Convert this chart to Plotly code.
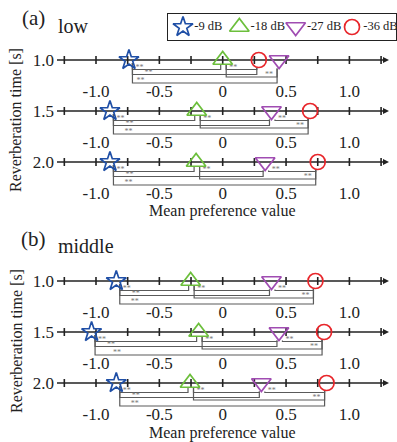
import plotly.graph_objects as go

# ---------------- data ----------------
conditions = ["-9 dB", "-18 dB", "-27 dB", "-36 dB"]
reverb_times = [1.0, 1.5, 2.0]
reverb_labels = ["1.0", "1.5", "2.0"]
axis_tick_values = [-1.0, -0.5, 0.0, 0.5, 1.0]
axis_tick_labels = ["-1.0", "-0.5", "0", "0.5", "1.0"]
axis_minor_ticks = [-1.25, -1.0, -0.75, -0.5, -0.25, 0.0, 0.25, 0.5, 0.75, 1.0, 1.25]

# (a) low : mean preference value per reverberation time (1.0, 1.5, 2.0 s)
low_m9 = [-0.74, -0.89, -0.89]
low_m18 = [0.00, -0.205, -0.21]
low_m27 = [0.445, 0.385, 0.335]
low_m36 = [0.285, 0.69, 0.75]

# (b) middle
middle_m9 = [-0.84, -1.035, -0.84]
middle_m18 = [-0.253, -0.19, -0.258]
middle_m27 = [0.385, 0.444, 0.305]
middle_m36 = [0.732, 0.80, 0.82]

all_pairs = [("-9 dB", "-18 dB"), ("-9 dB", "-27 dB"), ("-9 dB", "-36 dB"),
             ("-18 dB", "-27 dB"), ("-18 dB", "-36 dB"), ("-27 dB", "-36 dB")]
# pairs with p < 0.01 (**) per reverberation time
low_significant = [[p for p in all_pairs if p != ("-27 dB", "-36 dB")], all_pairs, all_pairs]
middle_significant = [all_pairs, all_pairs, all_pairs]

# ---------------- styling / layout constants ----------------
W, H = 397, 442
ZERO_PX = 222.7          # pixel of value 0
PX_PER_UNIT = 126.7      # pixels per preference unit
PX_PER_SEC = 102.0       # pixels per second of reverberation time
FONT = "Liberation Serif, Times New Roman, serif"

symbols = {"-9 dB": "star-open", "-18 dB": "triangle-up-open",
           "-27 dB": "triangle-down-open", "-36 dB": "circle-open"}
sizes = {"-9 dB": 15, "-18 dB": 17, "-27 dB": 17, "-36 dB": 15}
colors = {"-9 dB": "#1f4fa6", "-18 dB": "#6cbf3c", "-27 dB": "#a04cb2", "-36 dB": "#e8262b"}
bracket_top_px = {"-9 dB": 3.0, "-18 dB": 4.5, "-27 dB": 8.5, "-36 dB": 7.5}
LEVEL_PX = [9.5, 14.5, 17.0, 23.0]
STAR_DX_PX = [7, 16, -8, 15]
LABEL_HALF_PX = {"-1.0": 13.5, "-0.5": 13.5, "0": 4.5, "0.5": 11, "1.0": 11}


def dx(px):
    return px / PX_PER_UNIT


def dy(px):
    return px / PX_PER_SEC


def clear_of_labels(xv):
    for v, lab in zip(axis_tick_values, axis_tick_labels):
        if abs(xv - v) * PX_PER_UNIT < LABEL_HALF_PX[lab] + 5:
            return False
    return True


x_range = [-ZERO_PX / PX_PER_UNIT, (W - ZERO_PX) / PX_PER_UNIT]
AXIS_START = (57 - ZERO_PX) / PX_PER_UNIT
ARROW_TIP = (389 - ZERO_PX) / PX_PER_UNIT

fig = go.Figure()


def add_panel(yref, series, significant):
    # axis lines
    lx, ly = [], []
    for t in reverb_times:
        lx += [AXIS_START, ARROW_TIP - dx(3), None]
        ly += [t, t, None]
    fig.add_trace(go.Scatter(x=lx, y=ly, yaxis=yref, mode="lines",
                             line=dict(color="#222", width=1.4),
                             hoverinfo="skip", showlegend=False))
    # tick marks
    tx, ty = [], []
    for t in reverb_times:
        for v in axis_minor_ticks:
            tx += [v, v, None]
            ty += [t - dy(4), t + dy(4), None]
    fig.add_trace(go.Scatter(x=tx, y=ty, yaxis=yref, mode="lines",
                             line=dict(color="#222", width=1.6),
                             hoverinfo="skip", showlegend=False))
    # arrow heads
    fig.add_trace(go.Scatter(x=[ARROW_TIP] * 3, y=reverb_times, yaxis=yref, mode="markers",
                             marker=dict(symbol="arrow-right", size=6, color="#222"),
                             hoverinfo="skip", showlegend=False))
    # significance brackets
    bx, by, sx, sy = [], [], [], []
    for r, t in enumerate(reverb_times):
        vals = {c: series[c][r] for c in conditions}
        order = sorted(conditions, key=lambda c: vals[c])
        rank = {c: k for k, c in enumerate(order)}
        for (c1, c2) in significant[r]:
            a, b = sorted((c1, c2), key=lambda c: rank[c])
            gap = rank[b] - rank[a]
            if gap == 1:
                lvl = 0
            elif gap == 2:
                lvl = 1 if rank[a] == 0 else 2
            else:
                lvl = 3
            x1 = vals[a] + dx(3.5)
            x2 = vals[b] - dx(2.0)
            yl = t + dy(LEVEL_PX[lvl])
            bx += [x1, x1, x2, x2, None]
            by += [t + dy(bracket_top_px[a]), yl, yl, t + dy(bracket_top_px[b]), None]
            off = STAR_DX_PX[lvl]
            xs = (x1 + dx(off)) if off > 0 else (x2 + dx(off))
            if lvl == 3:
                for cand in [15, 8, 22, 4, 28, 34]:
                    if clear_of_labels(x1 + dx(cand)):
                        xs = x1 + dx(cand)
                        break
            sx.append(xs)
            sy.append(yl - dy(2.0))
    fig.add_trace(go.Scatter(x=bx, y=by, yaxis=yref, mode="lines",
                             line=dict(color="#5a5a5a", width=1.2),
                             hoverinfo="skip", showlegend=False))
    fig.add_trace(go.Scatter(x=sx, y=sy, yaxis=yref, mode="text", text=["**"] * len(sx),
                             textfont=dict(family=FONT, size=8, color="#777"),
                             textposition="middle center",
                             hoverinfo="skip", showlegend=False))
    # markers
    for c in conditions:
        fig.add_trace(go.Scatter(x=series[c], y=reverb_times, yaxis=yref, mode="markers",
                                 name=c, showlegend=False,
                                 marker=dict(symbol=symbols[c], size=sizes[c],
                                             color=colors[c], line=dict(width=1.7, color=colors[c]))))
    # value tick labels under each row
    lx, ly, lt = [], [], []
    for t in reverb_times:
        lx += axis_tick_values
        ly += [t + dy(33)] * len(axis_tick_values)
        lt += axis_tick_labels
    fig.add_trace(go.Scatter(x=lx, y=ly, yaxis=yref, mode="text", text=lt,
                             textposition="middle center",
                             textfont=dict(family=FONT, size=17, color="#222"),
                             hoverinfo="skip", showlegend=False))


add_panel("y", {"-9 dB": low_m9, "-18 dB": low_m18, "-27 dB": low_m27, "-36 dB": low_m36},
          low_significant)
add_panel("y2", {"-9 dB": middle_m9, "-18 dB": middle_m18, "-27 dB": middle_m27, "-36 dB": middle_m36},
          middle_significant)

# legend drawn as a small categorical strip
leg_idx = list(range(len(conditions)))
for k, c in enumerate(conditions):
    fig.add_trace(go.Scatter(x=[leg_idx[k]], y=[0.5], xaxis="x3", yaxis="y3", mode="markers",
                             showlegend=False, hoverinfo="skip",
                             marker=dict(symbol=symbols[c], size=sizes[c], color=colors[c],
                                         line=dict(width=1.7, color=colors[c]))))
fig.add_trace(go.Scatter(x=[i + 0.2 for i in leg_idx], y=[0.5] * 4, xaxis="x3", yaxis="y3",
                         mode="text", text=conditions, textposition="middle right",
                         textfont=dict(family=FONT, size=12.5, color="#222"),
                         hoverinfo="skip", showlegend=False))


def ydomain(top_px, bottom_px):
    return [1 - bottom_px / H, 1 - top_px / H]


def yrange(first_row_px, top_px, bottom_px):
    return [1.0 + (bottom_px - first_row_px) / PX_PER_SEC, 1.0 + (top_px - first_row_px) / PX_PER_SEC]


yaxis_common = dict(anchor="free", position=57 / W, tickvals=reverb_times, ticktext=reverb_labels,
                    tickfont=dict(family=FONT, size=17, color="#222"), ticks="",
                    ticklabelstandoff=3,
                    showgrid=False, zeroline=False, showline=False, fixedrange=True)

title_font = dict(family=FONT, size=16, color="#222")
fig.update_layout(
    width=W, height=H, margin=dict(l=0, r=0, t=0, b=0),
    paper_bgcolor="white", plot_bgcolor="white",
    xaxis=dict(domain=[0, 1], range=x_range, visible=False, fixedrange=True),
    yaxis=dict(domain=ydomain(20, 221), range=yrange(60, 20, 221), **yaxis_common),
    yaxis2=dict(domain=ydomain(241, 442), range=yrange(281, 241, 442), **yaxis_common),
    xaxis3=dict(domain=[168 / W, 396 / W], range=[-(183 - 168) / 56.33, 3 + (396 - 352) / 56.33],
                anchor="y3", showticklabels=False, showgrid=False, zeroline=False, ticks="",
                showline=True, mirror=True, linecolor="#222", linewidth=1, fixedrange=True),
    yaxis3=dict(domain=ydomain(14, 40), range=[0, 1], anchor="x3", showticklabels=False,
                showgrid=False, zeroline=False, ticks="",
                showline=True, mirror=True, linecolor="#222", linewidth=1, fixedrange=True),
    annotations=[
        dict(text="(a)", xref="paper", yref="paper", x=33 / W, y=1 - 18 / H, showarrow=False,
             xanchor="center", yanchor="middle", font=dict(family=FONT, size=21, color="#222")),
        dict(text="low", xref="paper", yref="paper", x=56 / W, y=1 - 25.5 / H, showarrow=False,
             xanchor="left", yanchor="middle", font=dict(family=FONT, size=20, color="#222")),
        dict(text="(b)", xref="paper", yref="paper", x=33 / W, y=1 - 239 / H, showarrow=False,
             xanchor="center", yanchor="middle", font=dict(family=FONT, size=21, color="#222")),
        dict(text="middle", xref="paper", yref="paper", x=56 / W, y=1 - 245.5 / H, showarrow=False,
             xanchor="left", yanchor="middle", font=dict(family=FONT, size=20, color="#222")),
        dict(text="Reverberation time [s]", xref="paper", yref="y", x=16 / W, y=1.5 + dy(9),
             textangle=-90, showarrow=False, xanchor="center", yanchor="middle", font=title_font),
        dict(text="Reverberation time [s]", xref="paper", yref="y2", x=16 / W, y=1.5 + dy(9),
             textangle=-90, showarrow=False, xanchor="center", yanchor="middle", font=title_font),
        dict(text="Mean preference value", xref="x", yref="y", x=0, y=2.0 + dy(49.5),
             showarrow=False, xanchor="center", yanchor="middle", font=title_font),
        dict(text="Mean preference value", xref="x", yref="y2", x=0, y=2.0 + dy(50),
             showarrow=False, xanchor="center", yanchor="middle", font=title_font),
    ],
)

fig.write_html("out.html", config={"displayModeBar": False},
               post_script="document.body.style.margin='0';")
